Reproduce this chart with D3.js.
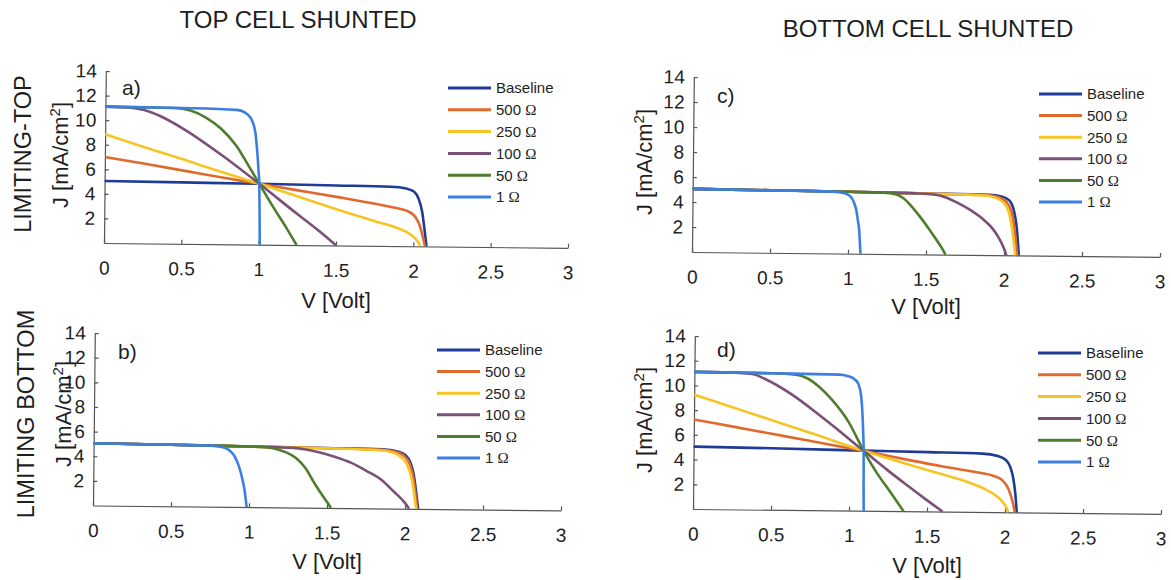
<!DOCTYPE html>
<html>
<head>
<meta charset="utf-8">
<script src="https://cdn.jsdelivr.net/npm/d3@7"></script>
<style>
body { margin: 0; background: #fff; }
svg { display: block; }
text { font-family: "Liberation Sans", Arial, sans-serif; fill: #1e1e1e; }
.axis path, .axis line { stroke: #555; stroke-width: 1.2; }
.axis text { fill: #1e1e1e; }
</style>
</head>
<body>
<svg id="chart" width="1171" height="580"></svg>
<script>
var seriesNames = ['Baseline', '500', '250', '100', '50', '1'];
var seriesColors = ['#1f3b96', '#e0692c', '#f6c523', '#7a4f78', '#4f7d2e', '#3d7fe0'];
var xTicks = [0, 0.5, 1, 1.5, 2, 2.5, 3];
var yTicks = [2, 4, 6, 8, 10, 12, 14];

// a) top cell shunted, limiting top   [V, J]
var aBaseline = [[0,5.05],[0.5,5.0],[1.0,4.95],[1.5,4.88],[1.85,4.82],[1.95,4.7],[2.0,4.45],[2.03,3.9],[2.055,2.8],[2.07,1.5],[2.08,0.5],[2.085,0]];
var a500 = [[0,7.0],[0.25,6.5],[0.5,5.98],[0.75,5.45],[1.0,4.95],[1.25,4.45],[1.5,3.95],[1.75,3.42],[1.9,3.05],[1.97,2.8],[2.01,2.4],[2.04,1.7],[2.06,0.8],[2.075,0]];
var a250 = [[0,8.85],[0.25,7.85],[0.5,6.9],[0.75,5.9],[1.0,4.95],[1.25,3.95],[1.5,2.95],[1.75,2.0],[1.9,1.45],[1.97,1.05],[2.01,0.65],[2.035,0.25],[2.045,0]];
var a100 = [[0,11.1],[0.15,11.05],[0.25,10.85],[0.35,10.4],[0.5,9.4],[0.75,7.3],[1.0,4.95],[1.25,2.5],[1.4,1.05],[1.5,0]];
var a50 = [[0,11.1],[0.45,11.05],[0.55,10.85],[0.65,10.3],[0.75,9.4],[0.85,8.0],[0.93,6.4],[1.0,4.95],[1.1,2.9],[1.18,1.35],[1.245,0]];
var a1 = [[0,11.1],[0.5,11.05],[0.85,10.95],[0.9,10.75],[0.94,10.3],[0.97,9.2],[0.985,7.5],[0.995,5.9],[1.0,4.95],[1.004,2.5],[1.007,0]];

// b) top cell shunted, limiting bottom
var bBaseline = [[0,5.05],[0.5,5.0],[1.0,4.92],[1.5,4.86],[1.85,4.8],[1.95,4.65],[2.0,4.35],[2.03,3.8],[2.055,2.7],[2.07,1.4],[2.08,0.4],[2.085,0]];
var b500 = [[0,5.05],[0.5,5.0],[1.0,4.92],[1.5,4.85],[1.85,4.77],[1.94,4.6],[1.99,4.3],[2.025,3.7],[2.05,2.6],[2.065,1.3],[2.075,0.3],[2.08,0]];
var b250 = [[0,5.05],[0.5,5.0],[1.0,4.92],[1.5,4.84],[1.83,4.74],[1.92,4.55],[1.97,4.2],[2.01,3.6],[2.04,2.5],[2.058,1.2],[2.068,0.3],[2.072,0]];
var b100 = [[0,5.05],[0.5,5.0],[1.0,4.92],[1.25,4.86],[1.35,4.75],[1.45,4.5],[1.55,4.15],[1.65,3.7],[1.75,3.05],[1.85,2.3],[1.93,1.35],[1.98,0.75],[2.01,0.3],[2.025,0]];
var b50 = [[0,5.05],[0.5,5.0],[1.0,4.92],[1.1,4.87],[1.17,4.75],[1.23,4.5],[1.3,4.0],[1.36,3.2],[1.42,1.95],[1.47,1.0],[1.51,0.3],[1.525,0]];
var b1 = [[0,5.05],[0.5,5.0],[0.75,4.96],[0.82,4.86],[0.87,4.6],[0.9,4.2],[0.93,3.4],[0.955,2.3],[0.97,1.4],[0.98,0.5],[0.985,0]];

// c) bottom cell shunted, limiting top
var cBaseline = [[0,5.05],[0.5,5.0],[1.0,4.95],[1.5,4.88],[1.9,4.82],[1.98,4.7],[2.03,4.4],[2.06,3.6],[2.08,2.2],[2.09,0.8],[2.095,0]];
var c500 = [[0,5.05],[0.5,5.0],[1.0,4.95],[1.5,4.87],[1.88,4.8],[1.96,4.65],[2.01,4.3],[2.045,3.5],[2.065,2.2],[2.078,0.8],[2.085,0]];
var c250 = [[0,5.05],[0.5,5.0],[1.0,4.95],[1.5,4.86],[1.86,4.78],[1.94,4.6],[1.99,4.25],[2.03,3.4],[2.05,2.1],[2.065,0.8],[2.072,0]];
var c100 = [[0,5.05],[0.5,5.0],[1.0,4.95],[1.45,4.87],[1.55,4.8],[1.62,4.6],[1.7,4.15],[1.78,3.6],[1.86,2.9],[1.92,2.2],[1.96,1.5],[1.99,0.8],[2.01,0.2],[2.015,0]];
var c50 = [[0,5.05],[0.5,5.0],[1.0,4.95],[1.22,4.9],[1.3,4.8],[1.35,4.5],[1.4,3.9],[1.46,3.0],[1.52,2.0],[1.57,1.1],[1.61,0.35],[1.625,0]];
var c1 = [[0,5.05],[0.5,5.0],[0.9,4.95],[0.97,4.85],[1.01,4.6],[1.035,4.1],[1.05,3.5],[1.062,2.6],[1.07,1.9],[1.076,0.8],[1.08,0]];

// d) bottom cell shunted, limiting bottom
var dBaseline = [[0,5.05],[0.5,4.98],[1.09,4.87],[1.5,4.8],[1.85,4.73],[1.95,4.55],[2.0,4.25],[2.03,3.7],[2.05,2.8],[2.065,1.5],[2.072,0.5],[2.075,0]];
var d500 = [[0,7.25],[0.25,6.7],[0.5,6.15],[0.75,5.6],[1.09,4.85],[1.4,4.1],[1.6,3.65],[1.8,3.25],[1.92,2.95],[1.98,2.6],[2.02,1.9],[2.045,1.0],[2.058,0.3],[2.062,0]];
var d250 = [[0,9.25],[0.25,8.25],[0.5,7.25],[0.75,6.25],[1.09,4.85],[1.4,3.7],[1.6,3.0],[1.75,2.45],[1.88,1.8],[1.95,1.25],[1.99,0.75],[2.01,0.35],[2.02,0]];
var d100 = [[0,11.1],[0.3,11.05],[0.38,10.95],[0.45,10.6],[0.62,9.4],[0.83,7.45],[1.09,4.85],[1.25,3.25],[1.36,2.2],[1.5,0.9],[1.6,0]];
var d50 = [[0,11.1],[0.5,11.05],[0.65,10.95],[0.72,10.7],[0.8,10.0],[0.88,9.0],[0.99,7.2],[1.09,4.85],[1.18,3.0],[1.26,1.6],[1.35,0]];
var d1 = [[0,11.1],[0.5,11.05],[0.93,11.0],[0.98,10.9],[1.03,10.6],[1.05,10.3],[1.07,9.3],[1.08,7.8],[1.087,6.0],[1.09,4.85],[1.092,2.0],[1.094,0]];

var tilt = 0.6; // the scanned figure is slightly rotated

var panels = [
  { letter: 'a)', series: [aBaseline, a500, a250, a100, a50, a1],
    x0: 104, x1: 568, yTop: 71, yBot: 243,
    letterPos: [122, 95], legend: [448, 88, 21.8], jLabel: [68, 155], vBase: 308 },
  { letter: 'b)', series: [bBaseline, b500, b250, b100, b50, b1],
    x0: 93, x1: 561, yTop: 333, yBot: 505.5,
    letterPos: [118, 359], legend: [437, 350, 21.6], jLabel: [71, 414], vBase: 569 },
  { letter: 'c)', series: [cBaseline, c500, c250, c100, c50, c1],
    x0: 692, x1: 1160, yTop: 77, yBot: 252,
    letterPos: [717, 103], legend: [1039, 94, 21.6], jLabel: [652, 162], vBase: 314 },
  { letter: 'd)', series: [dBaseline, d500, d250, d100, d50, d1],
    x0: 693, x1: 1161, yTop: 336, yBot: 509,
    letterPos: [717, 357], legend: [1038, 353, 21.8], jLabel: [652, 420], vBase: 573 }
];

var svg = d3.select('#chart');

function drawPanel(p) {
  var w = p.x1 - p.x0;
  var h = p.yBot - p.yTop;
  var x = d3.scaleLinear().domain([0, 3]).range([0, w]);
  var y = d3.scaleLinear().domain([0, 14]).range([h, 0]);

  var g = svg.append('g')
    .attr('transform', 'translate(' + p.x0 + ',' + p.yTop + ') rotate(' + tilt + ',0,' + h + ')');

  g.append('g')
    .attr('class', 'axis')
    .attr('transform', 'translate(0,' + h + ')')
    .call(d3.axisBottom(x).tickValues(xTicks).tickFormat(d3.format('~g'))
      .tickSizeInner(-4).tickSizeOuter(0).tickPadding(18))
    .attr('font-size', 19)
    .attr('font-family', '"Liberation Sans", Arial, sans-serif');

  g.append('g')
    .attr('class', 'axis')
    .call(d3.axisLeft(y).tickValues(yTicks)
      .tickSizeInner(-4).tickSizeOuter(0).tickPadding(9))
    .attr('font-size', 19)
    .attr('font-family', '"Liberation Sans", Arial, sans-serif');

  var line = d3.line()
    .x(function (d) { return x(d[0]); })
    .y(function (d) { return y(d[1]); })
    .curve(d3.curveMonotoneX);

  p.series.forEach(function (s, i) {
    g.append('path')
      .attr('d', line(s))
      .attr('fill', 'none')
      .attr('stroke', seriesColors[i])
      .attr('stroke-width', 2.6)
      .attr('stroke-linejoin', 'round');
  });

  // panel letter
  svg.append('text')
    .attr('x', p.letterPos[0]).attr('y', p.letterPos[1])
    .attr('font-size', 21)
    .text(p.letter);

  // legend
  var lx = p.legend[0], ly = p.legend[1], step = p.legend[2];
  seriesNames.forEach(function (name, i) {
    var yy = ly + i * step;
    svg.append('line')
      .attr('x1', lx).attr('x2', lx + 43)
      .attr('y1', yy).attr('y2', yy)
      .attr('stroke', seriesColors[i])
      .attr('stroke-width', 3);
    var t = svg.append('text')
      .attr('x', lx + 48).attr('y', yy)
      .attr('dy', '0.36em')
      .attr('font-size', 15);
    if (name === 'Baseline') {
      t.text(name);
    } else {
      t.append('tspan').text(name + ' ');
      t.append('tspan').attr('font-family', '"Liberation Serif", serif').text('\u03A9');
    }
  });

  // y label
  var jl = svg.append('text')
    .attr('transform', 'translate(' + p.jLabel[0] + ',' + p.jLabel[1] + ') rotate(-90)')
    .attr('text-anchor', 'middle')
    .attr('font-size', 22);
  jl.append('tspan').text('J [mA/cm');
  jl.append('tspan').attr('font-size', 15).attr('dy', '-0.55em').text('2');
  jl.append('tspan').attr('dy', '0.38em').text(']');

  // x label
  svg.append('text')
    .attr('x', (p.x0 + p.x1) / 2).attr('y', p.vBase)
    .attr('text-anchor', 'middle')
    .attr('font-size', 22)
    .text('V [Volt]');
}

panels.forEach(drawPanel);

// column titles and row labels
svg.append('text').attr('x', 298).attr('y', 28).attr('text-anchor', 'middle')
  .attr('font-size', 24).text('TOP CELL SHUNTED');
svg.append('text').attr('x', 928).attr('y', 37).attr('text-anchor', 'middle')
  .attr('font-size', 24).text('BOTTOM CELL SHUNTED');

svg.append('text').attr('transform', 'translate(31,154) rotate(-90)')
  .attr('text-anchor', 'middle').attr('font-size', 23.5).text('LIMITING-TOP');
svg.append('text').attr('transform', 'translate(34,414) rotate(-90)')
  .attr('text-anchor', 'middle').attr('font-size', 23.5).text('LIMITING BOTTOM');
</script>
</body>
</html>
